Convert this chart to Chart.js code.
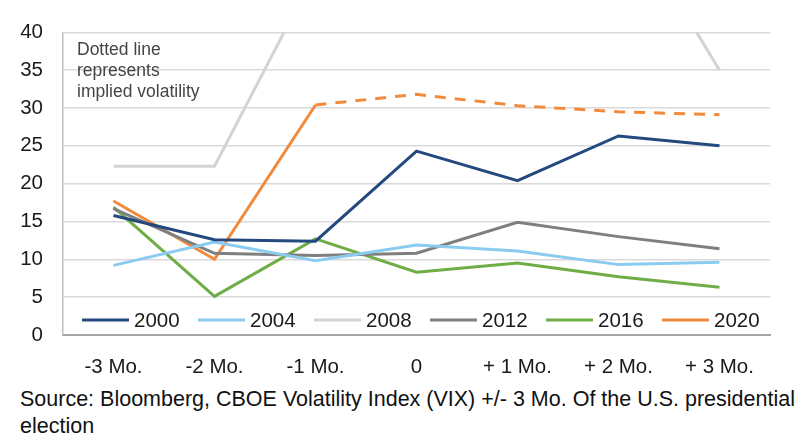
<!DOCTYPE html>
<html>
<head>
<meta charset="utf-8">
<script src="https://cdn.jsdelivr.net/npm/chart.js@4.4.1/dist/chart.umd.min.js"></script>
<style>
  html, body { margin:0; padding:0; background:#fff; }
  body { width:800px; height:446px; overflow:hidden; font-family:'Liberation Sans', Arial, sans-serif; }
  #wrap { position:relative; width:800px; height:380px; }
  #source { position:absolute; left:20px; top:386px; width:790px; font-size:21.5px; line-height:27px; color:#111; }
</style>
</head>
<body>
<div id="wrap"><canvas id="chart" width="800" height="380"></canvas></div>
<div id="source">Source: Bloomberg, CBOE Volatility Index (VIX) +/- 3 Mo. Of the U.S. presidential election</div>
<script>
const $ = id => document.getElementById(id);

const categories = ['-3 Mo.', '-2 Mo.', '-1 Mo.', '0', '+ 1 Mo.', '+ 2 Mo.', '+ 3 Mo.'];
const seriesNames = ['2000', '2004', '2008', '2012', '2016', '2020'];
const vix2000 = [15.8, 12.6, 12.4, 24.3, 20.4, 26.3, 25.0];
const vix2004 = [9.2, 12.3, 9.8, 11.9, 11.1, 9.3, 9.6];
const vix2008 = [22.3, 22.3, 48, 55, 60, 57, 35.0];
const vix2012 = [16.7, 10.8, 10.5, 10.8, 14.9, 13.0, 11.4];
const vix2016 = [16.9, 5.1, 12.7, 8.3, 9.5, 7.7, 6.3];
const vix2020 = [17.7, 10.0, 30.4, 31.8, 30.3, 29.5, 29.1];
const yTicks = [0, 5, 10, 15, 20, 25, 30, 35, 40];
const noteLines = ['Dotted line', 'represents', 'implied volatility'];

const colors = ['#24497f', '#8ccbf0', '#d3d3d3', '#7f7f7f', '#6fad46', '#f28a3c'];
const values = [vix2000, vix2004, vix2008, vix2012, vix2016, vix2020];
const FONT = "'Liberation Sans', Arial, sans-serif";

// 2020 switches to implied volatility (dashed) from -1 Mo. onwards
const dashFrom = 2;

const datasets = seriesNames.map((name, i) => ({
  label: name,
  data: values[i],
  borderColor: colors[i],
  backgroundColor: colors[i],
  borderWidth: 3,
  pointRadius: 0,
  tension: 0,
  segment: name === '2020' ? { borderDash: c => c.p0DataIndex >= dashFrom ? [11, 9] : undefined } : undefined
}));

// legend and note drawn inside the plot area, like the original
const insideLegend = {
  id: 'insideLegend',
  afterDatasetsDraw(chart) {
    const { ctx, chartArea } = chart;
    ctx.save();
    ctx.font = `20.5px ${FONT}`;
    ctx.textBaseline = 'middle';
    const y = chartArea.bottom - 15;
    chart.data.datasets.forEach((ds, i) => {
      const x = chartArea.left + 19 + i * 116;
      ctx.strokeStyle = ds.borderColor;
      ctx.lineWidth = 3;
      ctx.setLineDash([]);
      ctx.beginPath();
      ctx.moveTo(x, y);
      ctx.lineTo(x + 47, y);
      ctx.stroke();
      ctx.fillStyle = '#1a1a1a';
      ctx.fillText(ds.label, x + 52, y + 1);
    });
    ctx.font = `17.5px ${FONT}`;
    ctx.fillStyle = '#444';
    ctx.textBaseline = 'top';
    noteLines.forEach((t, i) => ctx.fillText(t, chartArea.left + 14, chartArea.top + 9 + i * 21));
    ctx.restore();
  }
};

new Chart($('chart'), {
  type: 'line',
  data: { labels: categories, datasets },
  plugins: [insideLegend],
  options: {
    responsive: false,
    animation: false,
    layout: { padding: { top: 22, right: 30, left: 0, bottom: 0 } },
    plugins: { legend: { display: false }, tooltip: { enabled: false } },
    scales: {
      x: {
        offset: true,
        grid: { display: false, drawTicks: false },
        border: { color: '#a6a6a6', width: 2 },
        ticks: { color: '#1a1a1a', font: { family: FONT, size: 20.5 }, padding: 20, maxRotation: 0 },
        afterFit: s => { s.height = 45; }
      },
      y: {
        min: 0, max: 40,
        afterBuildTicks: s => { s.ticks = yTicks.map(v => ({ value: v })); },
        grid: { color: '#d9d9d9', lineWidth: 1.5, drawTicks: false },
        border: { color: '#bfbfbf', width: 1.5 },
        ticks: { color: '#1a1a1a', font: { family: FONT, size: 20.5 }, padding: 20 },
        afterFit: s => { s.width = 63; }
      }
    }
  }
});
</script>
</body>
</html>
